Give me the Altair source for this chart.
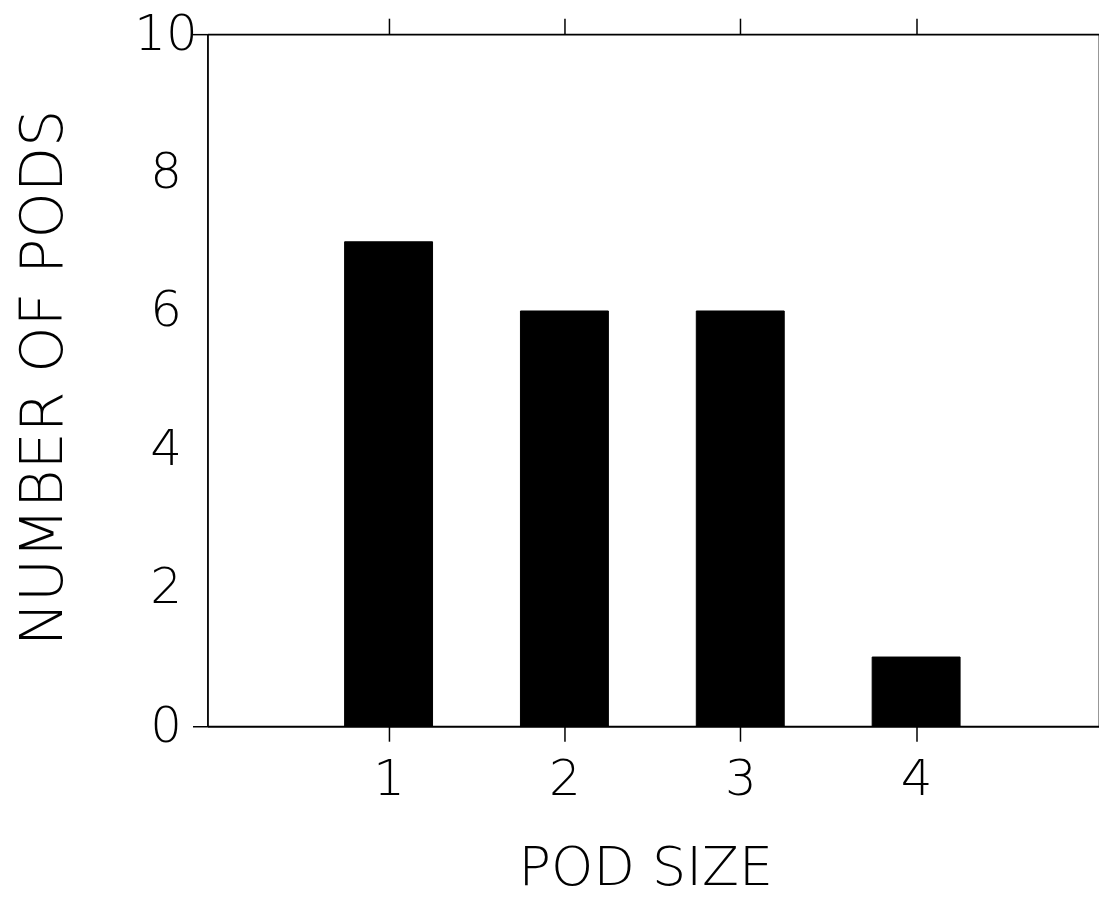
import altair as alt
import pandas as pd

pod_size = [1, 2, 3, 4]
num_pods = [7, 6, 6, 1]
y_ticks = [0, 2, 4, 6, 8, 10]
right_ticks = [2, 4, 6, 8]

df = pd.DataFrame({"size": pod_size, "count": num_pods})

FONT = "DejaVu Sans"
FW = 200
W = 894
H = 694

xscale = alt.Scale(domain=[-0.03, 5.04], nice=False, zero=False)
yscale = alt.Scale(domain=[0, 10], nice=False)

bars = alt.Chart(df).transform_calculate(
    x0="datum.size - 0.25", x1="datum.size + 0.25"
).mark_bar(color="black", stroke="black", strokeWidth=1).encode(
    x=alt.X("x0:Q", scale=xscale, axis=alt.Axis(
        orient="bottom", values=pod_size, format="d", title="POD SIZE",
        tickSize=15, tickWidth=1.5, tickColor="black",
        domainColor="black", domainWidth=1.8,
        labelFont=FONT, labelFontSize=50, labelFontWeight=FW, labelColor="black",
        labelBaseline="alphabetic", labelPadding=53,
        titleFont=FONT, titleFontSize=54, titleFontWeight=FW, titleColor="black",
        titleBaseline="alphabetic", titleY=159, titleX=W / 2 - 8,
        grid=False)),
    x2="x1:Q",
    y=alt.Y("count:Q", scale=yscale, axis=alt.Axis(
        orient="left", values=y_ticks, format="d", title="NUMBER OF PODS",
        tickSize=15, tickWidth=1.5,
        tickColor={"condition": {"test": "datum.value === 0 || datum.value === 10", "value": "black"}, "value": "transparent"},
        domainColor="black", domainWidth=1.8,
        labelFont=FONT, labelFontSize=50, labelFontWeight=FW, labelColor="black",
        labelAlign="center", labelPadding=27,
        titleFont=FONT, titleFontSize=59, titleFontWeight=FW, titleColor="black",
        titleBaseline="alphabetic", titleAngle=-90, titleX=-146, titleY=H / 2 - 3,
        grid=False)),
    y2=alt.datum(0),
)

frame = alt.Chart(df).mark_point(opacity=0).encode(
    x=alt.X("size:Q", scale=xscale, axis=alt.Axis(
        orient="top", values=pod_size, labels=False, title=None,
        tickSize=16, tickWidth=1.5, tickColor="black",
        domainColor="black", domainWidth=1.8, grid=False)),
    y=alt.Y("count:Q", scale=yscale, axis=alt.Axis(
        orient="right", values=right_ticks, labels=False, title=None,
        tickSize=5, tickWidth=1.5, tickColor="black",
        domainColor="black", domainWidth=1.8, grid=False)),
)

chart = alt.layer(bars, frame).resolve_axis(
    x="independent", y="independent"
).resolve_scale(x="shared", y="shared").properties(
    width=W, height=H,
    autosize=alt.AutoSizeParams(type="none"),
    padding={"left": 200, "top": 25, "right": 0, "bottom": 175},
).configure_view(stroke=None).configure(background="white")

chart.save("out.html", embed_options={"renderer": "svg", "actions": False})
